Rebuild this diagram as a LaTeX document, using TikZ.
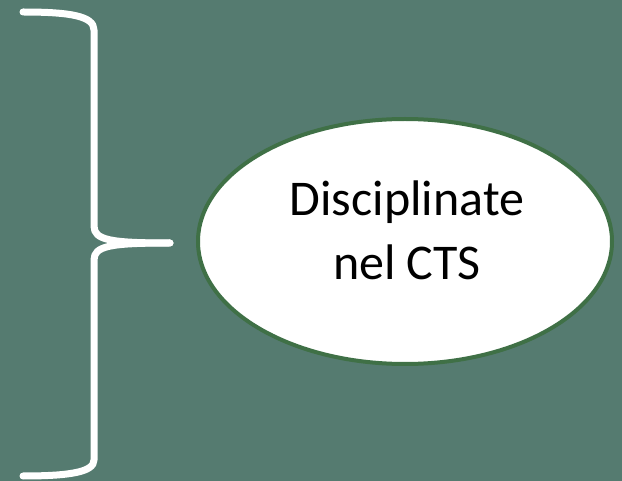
\documentclass[tikz,border=0pt]{standalone}
\usepackage{fontspec}
\setmainfont{Carlito}
\usetikzlibrary{shapes.geometric}
\definecolor{bg}{HTML}{557B70}
\definecolor{ringgreen}{HTML}{3F7046}
\tikzset{
  bracestyle/.style={draw=white, line width=7pt, line cap=round, line join=round},
  ovalshape/.style={ellipse, draw=ringgreen, line width=4pt, fill=white, inner sep=0pt,
    minimum width=414pt, minimum height=245pt},
  labeltext/.style={font=\fontsize{50}{62}\selectfont, text=black, inner sep=0pt, anchor=base}
}
\begin{document}
\begin{tikzpicture}[x=1pt,y=-1pt]
\fill[bg] (0,0) rectangle (622,481);
\useasboundingbox (0,0) rectangle (622,481);
\coordinate (btop) at (23,12);
\coordinate (btip) at (170,243);
\coordinate (bbot) at (23,476);
\draw[bracestyle] (btop) .. controls (70,12) and (94,16) .. (94,30) -- (94,226)
  .. controls (94,240) and (110,243) .. (btip);
\draw[bracestyle] (btip) .. controls (110,243) and (94,246) .. (94,260) -- (94,460)
  .. controls (94,472) and (70,476) .. (bbot);
\node[ovalshape] (oval) at (405,241.5) {};
\node[labeltext] (line1) at (407,216) {Disciplinate};
\node[labeltext] (line2) at (407,280) {nel CTS};
\end{tikzpicture}
\end{document}
